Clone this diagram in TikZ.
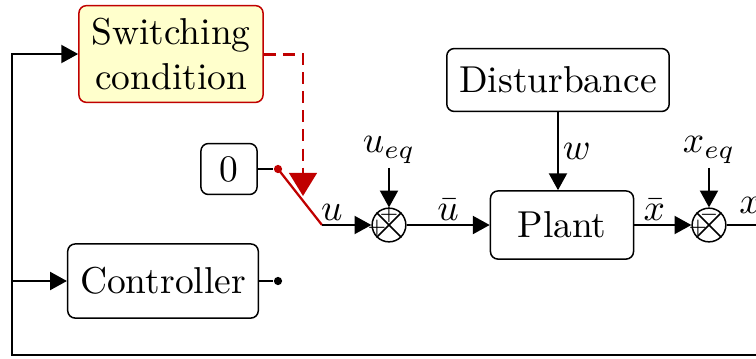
\documentclass[tikz,border=0pt]{standalone}
\usepackage{amsmath}
\usetikzlibrary{arrows.meta, positioning, calc}
\definecolor{swred}{HTML}{C00000}
\definecolor{swfill}{HTML}{FFFFCC}

\begin{document}
\begin{tikzpicture}[
    x=0.267pt, y=-0.267pt,
    blk/.style={draw, rounded corners=2pt, line width=0.4pt},
    sumnode/.style={draw, circle, minimum size=9pt, inner sep=0pt, line width=0.4pt},
    sgn/.style={font=\tiny, inner sep=0pt},
    lab/.style={inner sep=1pt},
    wire/.style={line width=0.55pt},
    sig/.style={wire, -{Triangle[length=4.5pt, width=4.8pt]}},
]
\useasboundingbox (0,0) rectangle (756,358);
\clip (0,0) rectangle (756,358);

% blocks
\node[blk, draw=swred, fill=swfill, align=center] (cond) at (171,54) {Switching\\condition};
\node[blk, minimum height=16.8pt] (dist) at (558,80) {Disturbance};
\node[blk, minimum width=15pt, minimum height=13.6pt] (zero) at (229,169) {0};
\node[blk, minimum width=38.2pt, minimum height=18.2pt] (plant) at (562,225) {Plant};
\node[blk, minimum height=19.8pt] (ctrl) at (163,281) {Controller};

% summing junctions
\node[sumnode] (s1) at (389,225) {};
\node[sumnode] (s2) at (709,225) {};
\foreach \s in {s1, s2}{
    \draw[line width=0.4pt] (\s.north east) -- (\s.south west);
    \draw[line width=0.4pt] (\s.north west) -- (\s.south east);
}
\node[sgn] at (389,215) {$+$};
\node[sgn] at (377,228) {$+$};
\node[sgn] at (709,215) {$-$};
\node[sgn] at (698,228) {$+$};

% switch
\node[circle, fill=swred, inner sep=0pt, minimum size=2.2pt] (piv) at (278,169) {};
\node[circle, fill=black, inner sep=0pt, minimum size=2.2pt] (cdot) at (278,281) {};
\coordinate (sw) at (322,225);
\coordinate (tip) at (303,196);
\draw[wire] (zero) -- (piv);
\draw[wire] (ctrl) -- (cdot);
\draw[swred, line width=0.6pt] (piv.center) -- (sw);
\draw[swred, line width=0.8pt, dash pattern=on 3.2pt off 1.9pt,
    -{Triangle[length=6.2pt, width=7.4pt]}] (cond.east) -| (tip);

% signals
\node[lab] (ueq) at (389,150) {$u_{eq}$};
\node[lab] (xeq) at (709,150) {$x_{eq}$};
\draw[sig] (sw) -- (s1) node[lab, pos=0.2, above] {$u$};
\draw[sig] (ueq) -- (s1);
\draw[sig] (s1) -- (plant) node[lab, midway, above] {$\bar{u}$};
\draw[sig] (dist) -- (dist |- plant.north) node[lab, midway, right] {$w$};
\draw[sig] (plant) -- (s2) node[lab, pos=0.35, above] {$\bar{x}$};
\draw[sig] (xeq) -- (s2);

% output and feedback
\coordinate (out) at (800,225);
\coordinate (fb) at (12,355);
\node[lab] at (750,205) {$x$};
\draw[sig] (s2) -- (out) |- (fb) |- (cond.west);
\draw[sig] (fb |- ctrl.west) -- (ctrl.west);
\end{tikzpicture}
\end{document}
